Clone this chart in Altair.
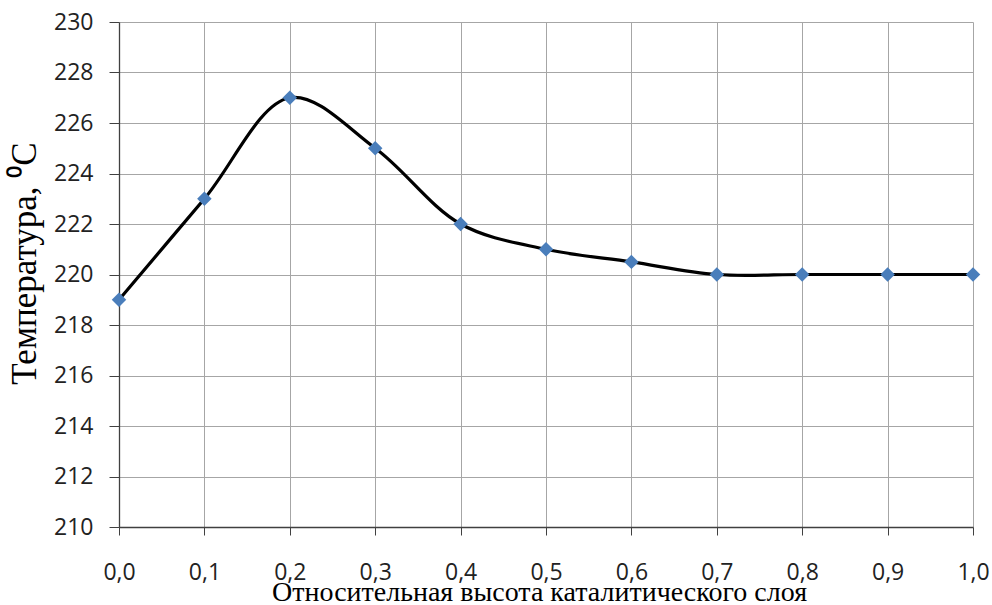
import altair as alt
import pandas as pd

heights = [0.0, 0.1, 0.2, 0.3, 0.4, 0.5, 0.6, 0.7, 0.8, 0.9, 1.0]
temps = [219, 223, 227, 225, 222, 221, 220.5, 220, 220, 220, 220]
x_ticks = [0.0, 0.1, 0.2, 0.3, 0.4, 0.5, 0.6, 0.7, 0.8, 0.9, 1.0]
y_ticks = [210, 212, 214, 216, 218, 220, 222, 224, 226, 228, 230]

df = pd.DataFrame({"h": heights, "t": temps})

label_font = "Open Sans"
title_font = "Liberation Serif"

x_enc = alt.X(
    "h:Q",
    scale=alt.Scale(domain=[0, 1], nice=False),
    axis=alt.Axis(
        values=x_ticks,
        labelExpr="replace(format(datum.value, '.1f'), '.', ',')",
        title="Относительная высота каталитического слоя",
        titleFont=title_font,
        titleFontSize=28,
        titleFontWeight="normal",
        titleColor="#000000",
        titleBaseline="alphabetic",
        titleAlign="center",
        titleX=420,
        titleY=73,
        labelFont=label_font,
        labelFontSize=23,
        labelColor="#222222",
        labelBaseline="alphabetic",
        labelPadding=44,
        tickSize=8,
        tickColor="#404040",
        domainColor="#404040",
        gridColor="#a6a6a6",
        labelFlush=False,
        labelOverlap=False,
    ),
)
y_enc = alt.Y(
    "t:Q",
    scale=alt.Scale(domain=[210, 230], nice=False, zero=False),
    axis=alt.Axis(
        values=y_ticks,
        title="Температура, ⁰C",
        titleFont=title_font,
        titleFontSize=35,
        titleFontWeight="normal",
        titleColor="#000000",
        titleAngle=270,
        titleBaseline="alphabetic",
        titleAlign="center",
        titleX=-84,
        titleY=241,
        labelFont=label_font,
        labelFontSize=23,
        labelColor="#222222",
        labelPadding=16,
        tickSize=10,
        tickColor="#404040",
        domainColor="#404040",
        gridColor="#a6a6a6",
        labelOverlap=False,
    ),
)

line = alt.Chart(df).mark_line(
    color="#000000", strokeWidth=3.2, interpolate="catmull-rom"
).encode(x=x_enc, y=y_enc)

points = alt.Chart(df).mark_point(
    shape="diamond", filled=True, color="#4a7ebb", size=210, opacity=1
).encode(x="h:Q", y="t:Q")

chart = (
    alt.layer(line, points)
    .properties(
        width=854,
        height=505,
        autosize=alt.AutoSizeParams(type="none"),
        padding={"left": 119, "top": 22, "right": 19, "bottom": 78},
        background="#ffffff",
    )
    .configure_view(stroke=None)
    .configure_axis(gridWidth=1, domainWidth=1.3)
)

chart.save("out.html", embed_options={"renderer": "svg", "actions": False})
